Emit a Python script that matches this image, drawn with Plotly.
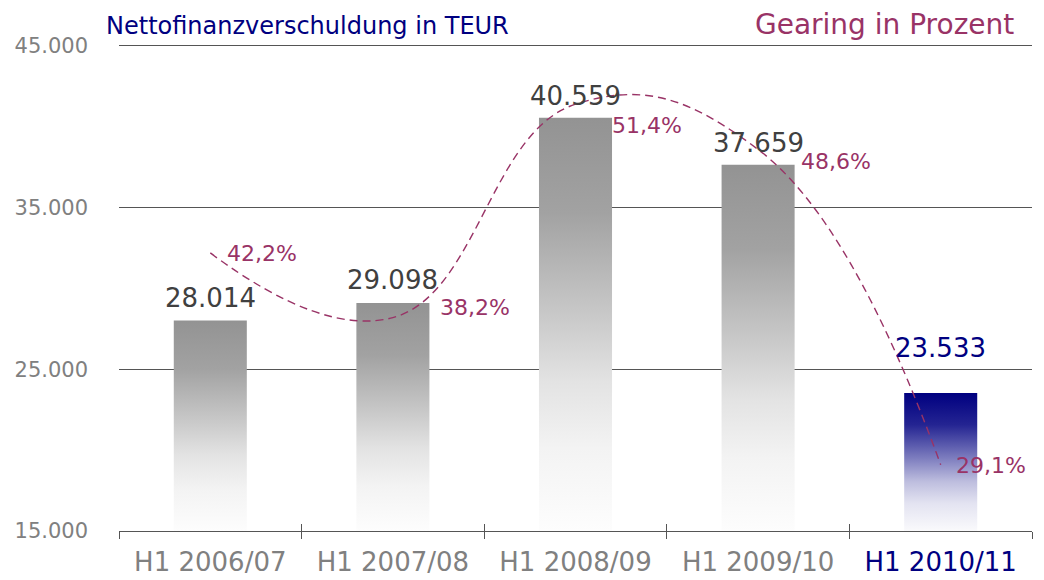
import plotly.graph_objects as go

# ---- data ----
categories = ["H1 2006/07", "H1 2007/08", "H1 2008/09", "H1 2009/10", "H1 2010/11"]
net_debt_teur = [28014, 29098, 40559, 37659, 23533]
gearing_pct = [42.2, 38.2, 51.4, 48.6, 29.1]
y_ticks = [15000, 25000, 35000, 45000]
y_tick_labels = ["15.000", "25.000", "35.000", "45.000"]

# ---- style ----
FONT = "DejaVu Sans"
GRAY_TXT = "#808080"
NAVY = "#000080"
MAROON = "#993366"
VAL_TXT = "#404040"
BAR_HALF = 0.2
BASE = 15000
Y_TOP = 45000

def gray_scale(top):
    # fraction from bottom -> color
    return [[0.0, "#fdfdfd"], [0.2, "#f3f3f3"], [0.36, "#e3e3e3"],
            [0.52, "#c9c9c9"], [0.77, "#a2a2a2"], [1.0, top]]

def mix(t, rgb):
    r = round(255 * (1 - t) + rgb[0] * t)
    g = round(255 * (1 - t) + rgb[1] * t)
    b = round(255 * (1 - t) + rgb[2] * t)
    return f"rgb({r},{g},{b})"

navy_rgb = (0, 0, 128)
navy_scale = [[0.0, mix(0.02, navy_rgb)], [0.2, mix(0.11, navy_rgb)], [0.36, mix(0.26, navy_rgb)],
              [0.52, mix(0.5, navy_rgb)], [0.77, mix(0.86, navy_rgb)], [1.0, mix(1.0, navy_rgb)]]

n = len(categories)
xpos = list(range(n))
highlight = n - 1

fig = go.Figure()

# gradient bars (filled rectangles built from data values)
for i, v in enumerate(net_debt_teur):
    xs = [i - BAR_HALF, i + BAR_HALF, i + BAR_HALF, i - BAR_HALF, i - BAR_HALF]
    ys = [BASE, BASE, v, v, BASE]
    fig.add_trace(go.Scatter(
        x=xs, y=ys, mode="lines", fill="toself",
        line=dict(width=0, color="rgba(0,0,0,0)"),
        fillgradient=dict(type="vertical",
                          colorscale=navy_scale if i == highlight else gray_scale("#939393")),
        hoverinfo="skip", showlegend=False, xaxis="x", yaxis="y"))

# gearing line
fig.add_trace(go.Scatter(
    x=xpos, y=gearing_pct, mode="lines",
    line=dict(color=MAROON, width=1.4, dash="8px,5px", shape="spline", smoothing=1.25),
    showlegend=False, hoverinfo="skip", xaxis="x2", yaxis="y2"))

annotations = []
# value labels
val_shift = [23, 23, 22, 22, 45]
for i, v in enumerate(net_debt_teur):
    annotations.append(dict(
        x=i, y=v, xref="x", yref="y", text=f"{v:,}".replace(",", "."),
        showarrow=False, xanchor="center", yanchor="middle", yshift=val_shift[i],
        font=dict(family=FONT, size=26, color=NAVY if i == highlight else VAL_TXT)))

# percent labels
pct_dx = [15, 45, 34, 41, 13]
pct_dy = [-1, 10, -21, -12, -1]
for i, p in enumerate(gearing_pct):
    annotations.append(dict(
        x=i, y=p, xref="x", yref="y2", text=f"{p:.1f}%".replace(".", ","),
        showarrow=False, xanchor="left", yanchor="middle",
        xshift=pct_dx[i], yshift=pct_dy[i],
        font=dict(family=FONT, size=22, color=MAROON)))

# titles
annotations.append(dict(x=-0.016, y=1.042, xref="paper", yref="paper",
                        text="Nettofinanzverschuldung in TEUR", showarrow=False,
                        xanchor="left", yanchor="middle",
                        font=dict(family=FONT, size=24, color=NAVY)))
annotations.append(dict(x=0.982, y=1.045, xref="paper", yref="paper",
                        text="Gearing in Prozent", showarrow=False,
                        xanchor="right", yanchor="middle",
                        font=dict(family=FONT, size=28, color=MAROON)))

tick_text = [f'<span style="color:{NAVY}">{c}</span>' if i == highlight else c
             for i, c in enumerate(categories)]
boundaries = [i - 0.5 for i in range(n + 1)]

fig.update_layout(
    width=1044, height=580,
    margin=dict(l=119, r=12, t=46, b=49, autoexpand=False),
    paper_bgcolor="white", plot_bgcolor="white",
    showlegend=False,
    annotations=annotations,
    xaxis=dict(range=[-0.5, n - 0.5], tickmode="array", tickvals=xpos, ticktext=tick_text,
               ticks="", showgrid=False, zeroline=False, automargin=False,
               showline=True, mirror=True, linecolor="#555555", linewidth=1,
               tickfont=dict(family=FONT, size=26, color=GRAY_TXT),
               ticklabelstandoff=8,
               minor=dict(tickmode="array", tickvals=boundaries, ticks="outside",
                          ticklen=7, tickcolor="#555555", tickwidth=1, showgrid=False)),
    xaxis2=dict(range=[-0.5, n - 0.5], overlaying="x", anchor="y2", side="bottom",
                tickmode="array", tickvals=boundaries, ticks="inside", ticklen=7,
                tickcolor="#555555", tickwidth=1, showticklabels=False, automargin=False,
                showgrid=False, zeroline=False, showline=False),
    yaxis=dict(range=[BASE, Y_TOP], tickmode="array", tickvals=y_ticks, ticktext=y_tick_labels,
               showgrid=True, gridcolor="#555555", gridwidth=1, zeroline=False,
               showline=False, ticks="", automargin=False,
               tickfont=dict(family=FONT, size=21, color=GRAY_TXT),
               ticklabelstandoff=30),
    yaxis2=dict(range=[25, 55], overlaying="y", side="right", visible=False, automargin=False),
)

fig.write_html("out.html", config={"displayModeBar": False, "staticPlot": True},
               post_script="document.body.style.margin='0';document.body.style.overflow='hidden';")
